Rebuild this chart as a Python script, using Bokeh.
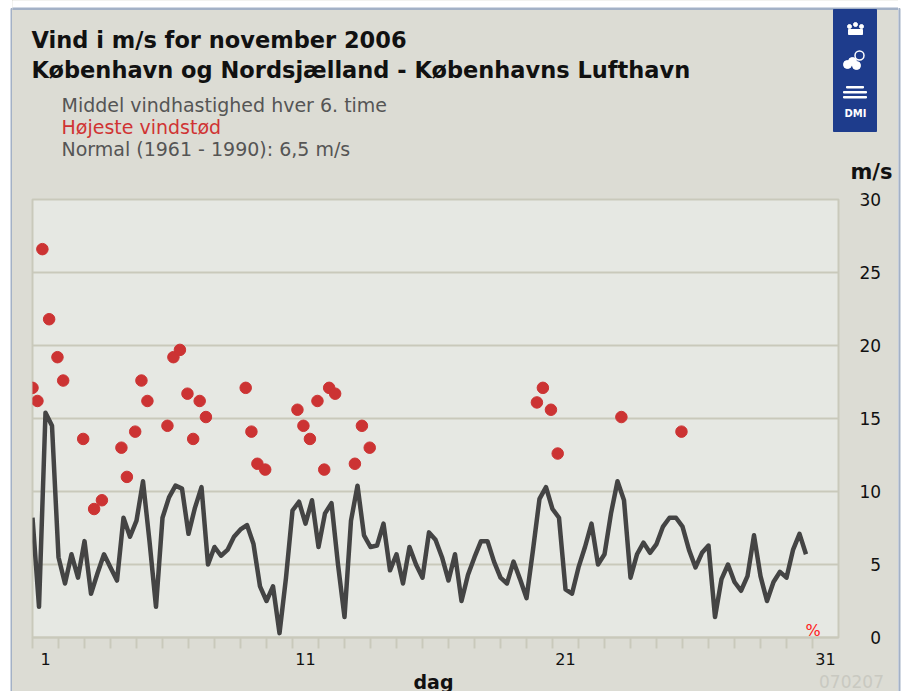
from bokeh.plotting import figure
from bokeh.models import Range1d, LinearAxis, FixedTicker, Label, ColumnDataSource, Grid
from bokeh.layouts import row, column
from bokeh.embed import file_html
from bokeh.resources import INLINE
from bokeh.core.properties import value

# ---------------- data ----------------
# mean wind speed (m/s) every 6 hours from 1 Nov 00 UTC
mean_wind = [
    8.2, 2.1, 15.4, 14.5, 5.5, 3.7, 5.7, 4.1, 6.6, 3.0,
    4.4, 5.7, 4.8, 3.9, 8.2, 6.9, 8.0, 10.7, 6.6, 2.1,
    8.2, 9.6, 10.4, 10.2, 7.1, 8.9, 10.3, 5.0, 6.2, 5.6,
    6.0, 6.9, 7.4, 7.7, 6.4, 3.5, 2.5, 3.5, 0.3, 4.1,
    8.7, 9.3, 7.8, 9.4, 6.2, 8.5, 9.2, 5.0, 1.4, 8.0,
    10.4, 7.0, 6.2, 6.3, 7.8, 4.6, 5.7, 3.7, 6.2, 5.0,
    4.1, 7.2, 6.7, 5.5, 3.9, 5.7, 2.5, 4.3, 5.5, 6.6,
    6.6, 5.2, 4.1, 3.7, 5.2, 4.0, 2.7, 6.0, 9.5, 10.3,
    8.8, 8.2, 3.3, 3.0, 4.8, 6.2, 7.8, 5.0, 5.7, 8.5,
    10.7, 9.4, 4.1, 5.7, 6.5, 5.8, 6.4, 7.6, 8.2, 8.2,
    7.6, 6.0, 4.8, 5.8, 6.3, 1.4, 4.0, 5.0, 3.8, 3.2,
    4.2, 7.0, 4.2, 2.5, 3.8, 4.5, 4.1, 6.0, 7.1, 5.7,
]
# highest gusts: time (days since 1 Nov 00 UTC) and speed (m/s)
gust_time = [0.0, 0.19, 0.38, 0.64, 0.96, 1.18, 1.95, 2.37, 2.67, 3.42,
             3.63, 3.95, 4.19, 4.42, 5.19, 5.42, 5.67, 5.96, 6.18, 6.43,
             6.67, 8.2, 8.42, 8.65, 8.95, 10.19, 10.42, 10.67, 10.96, 11.22,
             11.41, 11.64, 12.4, 12.67, 12.97, 19.4, 19.63, 19.94, 20.2, 22.65,
             24.96]
gust_speed = [17.1, 16.2, 26.6, 21.8, 19.2, 17.6, 13.6, 8.8, 9.4, 13.0,
              11.0, 14.1, 17.6, 16.2, 14.5, 19.2, 19.7, 16.7, 13.6, 16.2,
              15.1, 17.1, 14.1, 11.9, 11.5, 15.6, 14.5, 13.6, 16.2, 11.5,
              17.1, 16.7, 11.9, 14.5, 13.0, 16.1, 17.1, 15.6, 12.6, 15.1,
              14.1]
day_ticks = [1, 11, 21, 31]
speed_ticks = [0, 5, 10, 15, 20, 25, 30]
grid_levels = [5, 10, 15, 20, 25]
title_lines = ["Vind i m/s for november 2006",
               "København og Nordsjælland - Københavns Lufthavn"]
legend_lines = ["Middel vindhastighed hver 6. time",
                "Højeste vindstød",
                "Normal (1961 - 1990): 6,5 m/s"]
unit_label = "m/s"
x_label = "dag"
stamp = "070207"

# ---------------- layout (page pixels) ----------------
PAGE_W, PAGE_H = 902, 691
STRIP_L = 12                   # white strip + panel border at the left
STRIP_R = 4                    # panel border + white strip at the right
HEAD_H = 185                   # header figure height
FOOT_H = 20                    # footer figure height
MAIN_H = PAGE_H - HEAD_H - FOOT_H
FL, FT, FR, FB = 32, 199, 838, 637   # plot frame edges in page pixels
PANEL = "#dcdcd4"
FRAME_BG = "#e6e8e3"
GRIDC = "#c9c9bb"
EDGE = "#a3b1c6"
FONT = "DejaVu Sans"
COL_X1 = PAGE_W - STRIP_R
COL_W = COL_X1 - STRIP_L
BG = {"background-color": PANEL}


def blank(width, height, x0, x1, y0, y1, bg):
    f = figure(width=width, height=height, x_range=Range1d(x0, x1), y_range=Range1d(y1, y0),
               output_backend="svg", toolbar_location=None,
               x_axis_location=None, y_axis_location=None, min_border=0)
    f.background_fill_color = bg
    f.border_fill_color = bg
    f.outline_line_color = None
    f.grid.visible = False
    return f


def txt(f, s, x, y, size, color="#111111", style="normal", align="left"):
    f.text(x=[x], y=[y], text=[s], text_font=value(FONT), text_font_size=size,
           text_font_style=style, text_color=color, text_align=align,
           text_baseline="middle")


# left / right strips with the panel edge
strip_l = blank(STRIP_L, PAGE_H, 0, STRIP_L, 0, PAGE_H, "white")
strip_l.quad(left=[STRIP_L - 1.5], right=[STRIP_L], top=[8], bottom=[PAGE_H], color=EDGE)
strip_r = blank(STRIP_R, PAGE_H, COL_X1, PAGE_W, 0, PAGE_H, "white")
strip_r.quad(left=[COL_X1], right=[COL_X1 + 1.5], top=[8], bottom=[PAGE_H], color=EDGE)

# header
head = blank(COL_W, HEAD_H, STRIP_L, COL_X1, 0, HEAD_H, PANEL)
head.quad(left=[STRIP_L], right=[COL_X1], top=[0], bottom=[8], color="white")
head.quad(left=[STRIP_L - 2], right=[COL_X1 + 2], top=[7.5], bottom=[9], color=EDGE)
txt(head, title_lines[0], 31, 39, "22.5px", style="bold")
txt(head, title_lines[1], 31, 69, "22.5px", style="bold")
txt(head, legend_lines[0], 61, 104, "19px", color="#555555")
txt(head, legend_lines[1], 61, 126, "19px", color="#d03333")
txt(head, legend_lines[2], 61, 148, "19px", color="#555555")
txt(head, unit_label, 871, 171, "21px", style="bold", align="center")
# DMI logo
head.quad(left=[833], right=[876], top=[9], bottom=[131], color="#1e3c8c")
head.quad(left=[848], right=[862], top=[29], bottom=[34], color="white")
head.scatter(x=[849, 855, 861], y=[26, 24, 26], size=4, color="white")
head.circle(x=[859], y=[55], radius=4.5, fill_alpha=0, line_color="white", line_width=1.5)
head.scatter(x=[847, 852, 856], y=[64, 61, 65], size=8, color="white")
head.quad(left=[843, 843], right=[866, 866], top=[91, 96], bottom=[92.5, 97.5], color="white")
head.quad(left=[846], right=[863], top=[86], bottom=[87.5], color="white")
txt(head, "DMI", 855, 113, "10px", color="white", style="bold", align="center")

# main chart
line_src = ColumnDataSource(dict(x=[0.5 + i / 4 for i in range(len(mean_wind))], y=mean_wind))
gust_src = ColumnDataSource(dict(x=[0.5 + t for t in gust_time], y=gust_speed))

p = figure(width=COL_W, height=MAIN_H, x_range=Range1d(0.5, 31.5), y_range=Range1d(0, 30),
           output_backend="svg", toolbar_location=None,
           x_axis_location=None, y_axis_location=None,
           min_border_left=FL - STRIP_L, min_border_right=COL_X1 - FR,
           min_border_top=FT - HEAD_H, min_border_bottom=HEAD_H + MAIN_H - FB)
p.border_fill_color = PANEL
p.background_fill_color = FRAME_BG
p.outline_line_color = GRIDC
p.outline_line_width = 2
p.grid.visible = False

p.add_layout(Grid(dimension=1, ticker=FixedTicker(ticks=grid_levels),
                  grid_line_color=GRIDC, grid_line_width=2))

xaxis = LinearAxis(ticker=FixedTicker(ticks=day_ticks, minor_ticks=[k + 0.5 for k in range(31)]))
xaxis.axis_line_color = GRIDC
xaxis.axis_line_width = 2
xaxis.major_tick_line_color = None
xaxis.major_tick_out = 0
xaxis.major_tick_in = 0
xaxis.minor_tick_out = 11
xaxis.minor_tick_in = 0
xaxis.minor_tick_line_color = GRIDC
xaxis.minor_tick_line_width = 2
xaxis.major_label_standoff = 4
xaxis.major_label_text_font = FONT
xaxis.major_label_text_font_size = "16px"
xaxis.major_label_text_color = "#111111"
p.add_layout(xaxis, "below")

yaxis = LinearAxis(ticker=FixedTicker(ticks=speed_ticks),
                   major_label_overrides={0: "\u20070", 5: "\u20075"})
yaxis.axis_line_color = None
yaxis.major_tick_line_color = None
yaxis.major_tick_out = 0
yaxis.major_tick_in = 0
yaxis.minor_tick_line_color = None
yaxis.major_label_standoff = 21
yaxis.major_label_text_font = FONT
yaxis.major_label_text_font_size = "17px"
yaxis.major_label_text_color = "#111111"
p.add_layout(yaxis, "right")

p.line("x", "y", source=line_src, line_color="#444444", line_width=4.5, line_join="round")
p.scatter("x", "y", source=gust_src, size=11.5, fill_color="#cc3333", line_color="#cc3333")
p.add_layout(Label(x=30.52, y=0.5, text="%", text_font=FONT, text_font_size="16px",
                   text_color="#ff2020", text_align="center", text_baseline="middle"))

# footer
foot = blank(COL_W, FOOT_H, STRIP_L, COL_X1, HEAD_H + MAIN_H, PAGE_H, PANEL)
txt(foot, x_label, 433, 681, "19px", style="bold", align="center")
txt(foot, stamp, 851, 681, "17px", color="#c9c9c1", align="center")

middle = column(row(head, styles=BG), p, row(foot, styles=BG), styles=BG)
layout = row(strip_l, middle, strip_r)
open("out.html", "w").write(file_html(layout, INLINE))
